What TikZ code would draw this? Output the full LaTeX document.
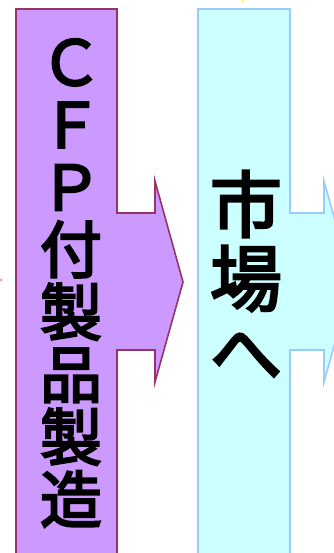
\documentclass[tikz,border=0pt]{standalone}
\usepackage{fontspec}
\newfontfamily\jpfont{Noto Sans CJK JP}[FakeBold=3.5]
\usepackage{xcolor}
\definecolor{makerpurple}{RGB}{204, 153, 255}
\definecolor{makerline}{RGB}{153, 51, 102}
\definecolor{marketcyan}{RGB}{204, 255, 255}
\definecolor{marketline}{RGB}{153, 204, 255}
\definecolor{tippink}{RGB}{255, 153, 204}
\definecolor{tipyellow}{RGB}{255, 255, 0}

\begin{document}
\begin{tikzpicture}[x=1pt, y=-1pt]
    \useasboundingbox (0,0) rectangle (333,553);

    % Neighbouring arrows, cut by the frame
    \fill[tippink] (-30,262) -- (3,280) -- (-30,298) -- cycle;
    \fill[tipyellow] (236,-20) -- (250,-20) -- (243,3) -- cycle;

    % CFP product making
    \draw[line width=1.6pt, makerline, fill=makerpurple]
        (16,560) -- (16,9) -- (117,9) -- (117,213) -- (155,213) -- (155,181)
        -- (183,282) -- (155,382) -- (155,350) -- (117,350) -- (117,560);
    \node[font=\jpfont\fontsize{62}{62.5}\selectfont, align=center,
          inner sep=0pt] (maker) at (71,283)
        {Ｃ\\Ｆ\\Ｐ\\付\\製\\品\\製\\造};

    % To the market
    \draw[line width=1.6pt, marketline, fill=marketcyan]
        (198,560) -- (198,9) -- (290,9) -- (290,213) -- (324,213) -- (324,181)
        -- (352,282) -- (324,382) -- (324,350) -- (290,350) -- (290,560);
    \node[font=\jpfont\fontsize{72}{74}\selectfont, align=center,
          inner sep=0pt] (market) at (246,275)
        {市\\場\\へ};
\end{tikzpicture}
\end{document}
